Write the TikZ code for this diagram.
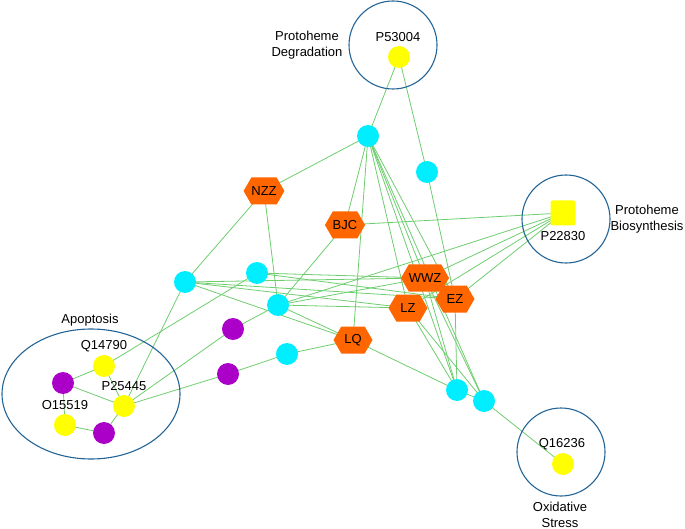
\documentclass[tikz,border=0pt]{standalone}
\usepackage{fontspec}
\setmainfont{Liberation Sans}
\usetikzlibrary{shapes.symbols,shapes.geometric,backgrounds}
\definecolor{cyanfill}{RGB}{0,238,255}
\definecolor{purplefill}{RGB}{170,0,200}
\definecolor{yellowfill}{RGB}{255,255,0}
\definecolor{hexfill}{RGB}{255,102,0}
\definecolor{edgegreen}{RGB}{110,205,110}
\definecolor{grpblue}{RGB}{35,100,150}
\begin{document}
\begin{tikzpicture}[x=1pt,y=-1pt,
  every node/.style={font=\fontsize{13}{15}\selectfont},
  cnode/.style={circle, fill=cyanfill, minimum size=22pt, inner sep=0pt},
  pnode/.style={circle, fill=purplefill, minimum size=22pt, inner sep=0pt},
  ynode/.style={circle, fill=yellowfill, minimum size=22pt, inner sep=0pt},
  sqnode/.style={rectangle, rounded corners=2pt, fill=yellowfill, minimum size=25pt, inner sep=0pt},
  hexnode/.style={signal, signal to=west and east, signal pointer angle=120, fill=hexfill, minimum width=39pt, minimum height=27pt, inner sep=0pt},
  grp/.style={draw=grpblue, line width=1.1pt},
  link/.style={draw=edgegreen, line width=0.8pt},
  lbl/.style={inner sep=0pt, align=center}
]
\useasboundingbox (0,0) rectangle (685,529);

% group outlines
\node[grp, circle, minimum size=88pt, inner sep=0pt] (gdeg) at (393,45) {};
\node[grp, circle, minimum size=88pt, inner sep=0pt] (gbio) at (566,219) {};
\node[grp, circle, minimum size=88pt, inner sep=0pt] (gox) at (561,452) {};
\node[grp, ellipse, minimum width=178pt, minimum height=130pt, inner sep=0pt] (gapo) at (91,394) {};

% group labels
\node[lbl] (tdeg) at (307,45) {Protoheme\\[1pt]Degradation};
\node[lbl] (tbio) at (647,219) {Protoheme\\[1pt]Biosynthesis};
\node[lbl] (tox) at (560,515) {Oxidative\\[1pt]Stress};
\node[lbl] (tapo) at (90,320) {Apoptosis};

% cyan nodes
\node[cnode] (cT) at (368,136) {};
\node[cnode] (cR) at (427,172) {};
\node[cnode] (cA) at (185,282) {};
\node[cnode] (cB) at (257,273) {};
\node[cnode] (cC) at (278,305) {};
\node[cnode] (cD) at (287,354) {};
\node[cnode] (cE) at (457,390) {};
\node[cnode] (cF) at (484,401) {};

% purple nodes
\node[pnode] (pA) at (233,329) {};
\node[pnode] (pB) at (228,374) {};
\node[pnode] (pC) at (63,383) {};
\node[pnode] (pD) at (104,433) {};

% yellow nodes
\node[ynode] (P53004) at (399,57) {};
\node[sqnode] (P22830) at (563,213) {};
\node[ynode] (Q14790) at (104,366) {};
\node[ynode] (P25445) at (124,406) {};
\node[ynode] (O15519) at (65,425) {};
\node[ynode] (Q16236) at (563,464) {};

\node[lbl] (lP53004) at (398,37) {P53004};
\node[lbl] (lP22830) at (563,236) {P22830};
\node[lbl] (lQ14790) at (104,346) {Q14790};
\node[lbl] (lP25445) at (124,386) {P25445};
\node[lbl] (lO15519) at (65,405) {O15519};
\node[lbl] (lQ16236) at (562,444) {Q16236};

% hexagons
\node[hexnode] (NZZ) at (264,191) {NZZ};
\node[hexnode] (BJC) at (345,225) {BJC};
\node[hexnode] (WWZ) at (425,278) {WWZ};
\node[hexnode] (EZ) at (455,299) {EZ};
\node[hexnode] (LZ) at (408,308) {LZ};
\node[hexnode] (LQ) at (353,340) {LQ};

\begin{scope}[on background layer]
\foreach \a/\b in {P53004/cT, P53004/cR,
  cT/NZZ, cT/BJC, cT/LQ, cT/LZ, cT/WWZ, cT/EZ, cT/cE, cT/cF,
  cR/EZ,
  NZZ/cA, NZZ/cC,
  BJC/cC, BJC/P22830,
  P22830/WWZ, P22830/EZ, P22830/LZ, P22830/cC,
  cA/WWZ, cA/LZ, cA/EZ, cA/LQ, cA/P25445,
  cB/WWZ, cB/EZ, cB/Q14790,
  cC/WWZ, cC/LZ, cC/LQ, cC/pA,
  pA/P25445, cD/LQ, cD/pB, pB/P25445,
  LQ/cE, LZ/cE, LZ/cF, EZ/cE, WWZ/cE, WWZ/cF, cE/cF, cF/Q16236,
  Q14790/pC, pC/P25445, Q14790/P25445, pC/O15519, O15519/pD, pD/P25445}
  {\draw[link] (\a.center) -- (\b.center);}
\end{scope}
\end{tikzpicture}
\end{document}
